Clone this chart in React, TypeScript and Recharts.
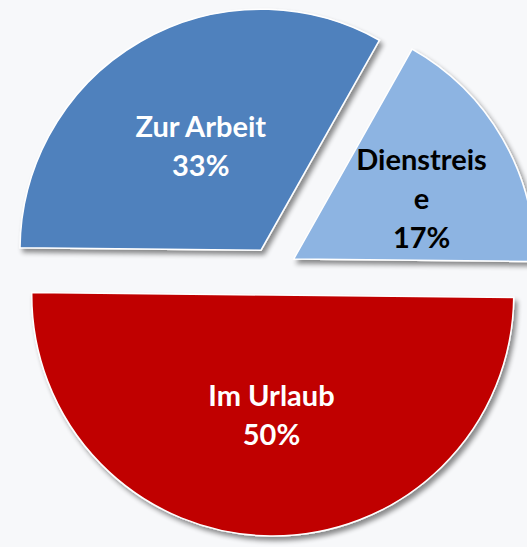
import React from 'react';
import { PieChart, Pie, Cell, Sector } from 'recharts';

const categories = ['Zur Arbeit', 'Dienstreise', 'Im Urlaub'];
const shares = [33, 17, 50];

const COLORS = ['#4F81BD', '#8DB4E2', '#C00000'];
const LABEL_COLORS = ['#FFFFFF', '#000000', '#FFFFFF'];

const data = categories.map((name, i) => ({ name, value: shares[i] }));

const W = 527;
const H = 547;
const CX = 273;
const CY = 271;
const R = 241;
const EXPLODE = 24;
const ROT = 0.6;
const FONT_SIZE = 29;
const LINE_H = 39;
const MAX_CHARS = 10;
const CHAR_W = 13;
const RAD = Math.PI / 180;

function wrap(text: string, max: number): string[] {
  const words = text.split(' ');
  const lines: string[] = [];
  let cur = '';
  for (const w of words) {
    const cand = cur ? cur + ' ' + w : w;
    if (cand.length <= max) {
      cur = cand;
      continue;
    }
    if (cur) lines.push(cur);
    let rest = w;
    while (rest.length > max) {
      lines.push(rest.slice(0, max));
      rest = rest.slice(max);
    }
    cur = rest;
  }
  if (cur) lines.push(cur);
  return lines;
}

const renderSlice = (props: any) => {
  const { cx, cy, midAngle, outerRadius, startAngle, endAngle, index, percent } = props;
  const name = props.name ?? categories[index];
  const cosA = Math.cos(-midAngle * RAD);
  const sinA = Math.sin(-midAngle * RAD);
  const ox = cx + EXPLODE * cosA;
  const oy = cy + EXPLODE * sinA;
  const lx0 = ox + outerRadius * 0.5 * cosA;
  const ly = oy + outerRadius * 0.5 * sinA;
  const lines = [...wrap(String(name), MAX_CHARS), `${Math.round(percent * 100)}%`];
  const halfW = (Math.max(...lines.map((l) => l.length)) * CHAR_W) / 2;
  const firstBase = ly - ((lines.length - 1) * LINE_H) / 2 + FONT_SIZE * 0.36;
  let lx = lx0;
  const upper = Math.max(startAngle, endAngle);
  if (upper > 0 && upper < 90) {
    const topY = firstBase - FONT_SIZE * 0.72;
    const edgeX = ox + (oy - topY) / Math.tan(upper * RAD);
    lx = Math.max(lx0, edgeX + 1 + halfW);
  }
  const fid = `slice-shadow-${index}`;
  return (
    <g>
      <defs>
        <filter id={fid} x="-20%" y="-20%" width="140%" height="140%">
          <feGaussianBlur in="SourceAlpha" stdDeviation="2.5" />
          <feOffset dx="3" dy="4" result="off" />
          <feComponentTransfer>
            <feFuncA type="linear" slope="0.45" />
          </feComponentTransfer>
          <feMerge>
            <feMergeNode />
            <feMergeNode in="SourceGraphic" />
          </feMerge>
        </filter>
      </defs>
      <g filter={`url(#${fid})`}>
        <Sector
          cx={ox}
          cy={oy}
          innerRadius={0}
          outerRadius={outerRadius}
          startAngle={startAngle}
          endAngle={endAngle}
          fill={COLORS[index]}
          stroke="#FFFFFF"
          strokeWidth={1.5}
        />
      </g>
      <text
        x={lx}
        y={firstBase}
        textAnchor="middle"
        fill={LABEL_COLORS[index]}
        fontFamily="Lato, 'Open Sans', sans-serif"
        fontWeight={700}
        fontSize={FONT_SIZE}
      >
        {lines.map((l, i) => (
          <tspan key={i} x={lx} dy={i === 0 ? 0 : LINE_H}>
            {l}
          </tspan>
        ))}
      </text>
    </g>
  );
};

export default function App() {
  return (
    <div
      style={{
        position: 'absolute',
        left: 0,
        top: 0,
        width: W,
        height: H,
        background: '#F7F8FA',
        overflow: 'hidden',
      }}
    >
      <PieChart width={W} height={H} margin={{ top: 0, right: 0, bottom: 0, left: 0 }}>
        <Pie
          data={data}
          dataKey="value"
          nameKey="name"
          cx={CX}
          cy={CY}
          innerRadius={0}
          outerRadius={R}
          startAngle={180 - ROT}
          endAngle={-180 - ROT}
          stroke="none"
          label={renderSlice}
          labelLine={false}
          isAnimationActive={false}
        >
          {data.map((d, i) => (
            <Cell key={d.name} fill="none" stroke="none" />
          ))}
        </Pie>
      </PieChart>
    </div>
  );
}
